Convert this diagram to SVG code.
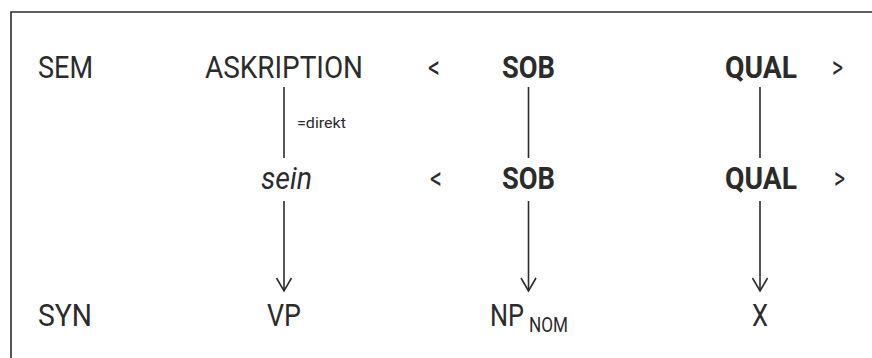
<svg xmlns="http://www.w3.org/2000/svg" width="872" height="358" viewBox="0 0 872 358">
<defs>
<style>
text{font-family:Roboto,"Liberation Sans",sans-serif;fill:#2b2b2b;font-size:32px}
.b{font-weight:bold}
.i{font-style:italic}
.s{font-size:15px}
.sub{font-size:21px}
.ln{stroke:#2b2b2b;stroke-width:1.6;fill:none}
</style>
<marker id="ah" markerWidth="18" markerHeight="18" refX="15" refY="9" orient="auto" markerUnits="userSpaceOnUse" viewBox="0 0 18 18">
<path d="M2,1.5 L15,9 L2,16.5" fill="none" stroke="#2b2b2b" stroke-width="1.6"/>
</marker>
</defs>
<rect width="872" height="358" fill="#fff"/>
<g id="frame">
<path class="ln" d="M11,358 L11,12 L872,12" stroke="#3a3a3a"/>
</g>
<g id="connectors">
<line class="ln" x1="284" y1="87" x2="284" y2="158"/>
<line class="ln" x1="528.5" y1="87" x2="528.5" y2="158"/>
<line class="ln" x1="760" y1="87" x2="760" y2="158"/>
<line class="ln" x1="284" y1="201" x2="284" y2="291" marker-end="url(#ah)"/>
<line class="ln" x1="528.5" y1="201" x2="528.5" y2="291" marker-end="url(#ah)"/>
<line class="ln" x1="760" y1="201" x2="760" y2="291" marker-end="url(#ah)"/>
<text class="s" x="297" y="128" textLength="49" lengthAdjust="spacingAndGlyphs">=direkt</text>
</g>
<g id="sem"><text x="38" y="78" textLength="55" lengthAdjust="spacingAndGlyphs">SEM</text></g>
<g id="askription"><text x="205" y="78" textLength="158" lengthAdjust="spacingAndGlyphs">ASKRIPTION</text></g>
<g id="lt1"><text x="428" y="78" textLength="12" lengthAdjust="spacingAndGlyphs">&lt;</text></g>
<g id="sob1"><text class="b" x="502" y="78" textLength="53" lengthAdjust="spacingAndGlyphs">SOB</text></g>
<g id="qual1"><text class="b" x="725" y="78" textLength="72" lengthAdjust="spacingAndGlyphs">QUAL</text></g>
<g id="gt1"><text x="832" y="78" textLength="11" lengthAdjust="spacingAndGlyphs">&gt;</text></g>
<g id="sein"><text class="i" x="261" y="189" textLength="51" lengthAdjust="spacingAndGlyphs">sein</text></g>
<g id="lt2"><text x="430" y="189" textLength="12" lengthAdjust="spacingAndGlyphs">&lt;</text></g>
<g id="sob2"><text class="b" x="502" y="189" textLength="53" lengthAdjust="spacingAndGlyphs">SOB</text></g>
<g id="qual2"><text class="b" x="725" y="189" textLength="72" lengthAdjust="spacingAndGlyphs">QUAL</text></g>
<g id="gt2"><text x="834" y="189" textLength="11" lengthAdjust="spacingAndGlyphs">&gt;</text></g>
<g id="syn"><text x="38" y="326" textLength="54" lengthAdjust="spacingAndGlyphs">SYN</text></g>
<g id="vp"><text x="267" y="326" textLength="34" lengthAdjust="spacingAndGlyphs">VP</text></g>
<g id="npnom"><text x="490" y="326" textLength="34" lengthAdjust="spacingAndGlyphs">NP</text><text class="sub" x="529" y="332" textLength="39" lengthAdjust="spacingAndGlyphs">NOM</text></g>
<g id="x"><text x="752" y="326" textLength="16" lengthAdjust="spacingAndGlyphs">X</text></g>
</svg>
